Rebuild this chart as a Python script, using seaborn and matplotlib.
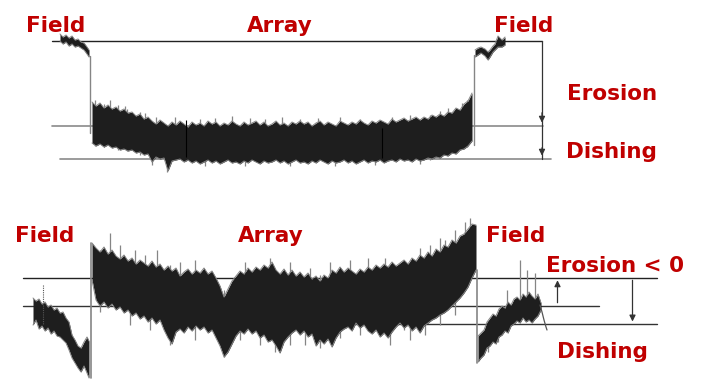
import matplotlib
matplotlib.use("Agg")
import matplotlib.pyplot as plt
import seaborn as sns
import pandas as pd

# ---------------- data (profile heights, screen units, y down) -------------
# Top profile: field (left), array, field (right)
t_fl_x = [60, 63, 66, 69, 72, 75, 78, 81, 84, 87, 89]
t_fl_hi = [34, 37, 35, 38, 36, 40, 39, 42, 43, 47, 50]
t_fl_lo = [41, 44, 42, 46, 44, 47, 46, 48, 50, 54, 57]

t_ar_x = list(range(92, 473, 4))
t_ar_hi = [102, 106, 103, 108, 105, 109, 107, 111, 109, 113, 112, 116, 114, 119, 117,
           121, 124, 120, 123, 126, 122, 125, 121, 124, 127, 122, 125, 123, 126, 121, 124, 122, 126, 123,
           125, 121, 124, 126, 122, 125, 123, 121, 125, 122, 126, 124, 121, 125, 123, 126, 122, 124, 121,
           124, 122, 126, 123, 121, 125, 122, 124, 126, 121, 123, 125, 122, 124, 120, 123, 125, 121, 123,
           120, 122, 124, 119, 122, 120, 118, 121, 119, 117, 120,
           117, 119, 115, 117, 114, 116, 112, 113, 108, 110, 104, 101, 93]
t_ar_lo = [143, 146, 144, 147, 145, 148, 147, 150, 149, 151, 150, 153, 152, 155, 154,
           162, 157, 159, 158, 171, 161, 160, 159, 162, 160, 163, 161, 164, 162, 160, 163, 161, 164, 162,
           160, 163, 162, 164, 161, 163, 160, 162, 164, 161, 163, 162, 160, 163, 161, 164, 162, 160, 163,
           162, 164, 161, 163, 160, 162, 164, 161, 163, 162, 160, 163, 161, 164, 162, 160, 163, 161, 162,
           160, 163, 161, 160, 162, 159, 161, 160, 162, 159, 161,
           160, 158, 159, 157, 158, 155, 156, 153, 154, 150, 149, 146, 141]

t_fr_x = [475, 478, 481, 485, 488, 490, 493, 495, 498, 502, 505]
t_fr_hi = [50, 48, 47, 49, 52, 50, 46, 44, 36, 40, 37]
t_fr_lo = [57, 55, 53, 56, 60, 57, 52, 50, 47, 47, 45]

t_spike_x = [95, 104, 110, 118, 125, 127, 140, 145, 156, 167, 175, 200, 215, 232, 250, 265, 282,
             300, 318, 340, 360, 392, 410, 430, 440, 448, 455, 462, 467,
             152, 205, 245, 290, 335, 375, 420]
t_spike_a = [100, 104, 100, 105, 106, 109, 112, 113, 117, 150, 117, 119, 118, 116, 118, 119, 117,
             119, 118, 117, 119, 117, 115, 115, 111, 108, 109, 103, 100,
             150, 150, 150, 150, 150, 150, 150]
t_spike_b = [146, 147, 120, 150, 120, 151, 155, 130, 158, 172, 135, 135, 135, 162, 135, 135, 135,
             135, 135, 135, 135, 135, 135, 160, 130, 130, 153, 130, 147,
             165, 166, 166, 166, 166, 165, 164]
t_mark_x = [186, 382]
t_mark_a = [120, 128]
t_mark_b = [157, 158]

# Bottom profile
b_fl_x = [33, 36, 39, 42, 45, 48, 51, 54, 57, 60, 63, 66, 69, 72, 75, 78, 81, 84, 87, 89]
b_fl_hi = [298, 301, 299, 304, 302, 307, 305, 310, 308, 313, 312, 318, 322, 335, 340, 346, 348, 342, 337, 341]
b_fl_lo = [325, 320, 329, 326, 331, 328, 334, 331, 336, 337, 340, 343, 350, 358, 363, 368, 372, 366, 373, 378]

b_ar_x = list(range(92, 477, 4))
b_ar_hi = [243, 248, 252, 247, 254, 250, 256, 259, 255, 261,
           258, 264, 260, 263, 266, 261, 267, 264, 270, 266,
           271, 268, 276, 272, 269, 274, 270, 273, 268, 274,
           271, 278, 286, 297, 289, 281, 276, 271, 274, 268,
           272, 267, 270, 265, 268, 262, 270, 274, 269, 275,
           270, 276, 272, 277, 273, 279, 276, 281, 275, 278,
           270, 273, 267, 272, 268, 271, 274, 269, 272, 267,
           270, 265, 268, 264, 267, 262, 266, 263, 260, 264,
           258, 261, 255, 258, 252, 256, 249, 252, 245, 247,
           240, 243, 236, 234, 229, 224, 225]
b_ar_lo = [280, 300, 306, 302, 308, 304, 310, 307, 313, 310,
           316, 313, 319, 316, 322, 318, 324, 320, 330, 338,
           344, 332, 329, 333, 327, 331, 326, 330, 327, 333,
           330, 338, 346, 357, 352, 344, 336, 331, 334, 329,
           334, 331, 338, 335, 342, 340, 346, 353, 342, 337,
           333, 330, 335, 331, 337, 334, 346, 340, 344, 339,
           347, 338, 332, 329, 327, 331, 323, 328, 325, 331,
           334, 330, 337, 333, 338, 332, 327, 323, 328, 325,
           331, 327, 333, 326, 323, 320, 318, 315, 313, 310,
           306, 302, 298, 293, 287, 278, 270]

b_fr_x = list(range(478, 542, 3))
b_fr_hi = [336, 333, 330, 322, 318, 314, 316, 309, 306, 308, 302, 305, 299, 297, 300, 294, 297, 292, 296, 299, 294, 303]
b_fr_lo = [362, 358, 355, 348, 346, 342, 344, 337, 335, 331, 333, 326, 324, 321, 323, 318, 322, 320, 323, 319, 316, 310]
b_tail_x = [540, 542, 544, 546, 547]
b_tail_y = [305, 312, 320, 327, 330]

b_spike_x = [100, 110, 157, 170, 224, 270, 275, 320, 404, 445, 507, 520, 527, 535,
             120, 135, 145, 180, 195, 245, 290, 310, 330, 350, 368, 385, 420, 430, 440, 455, 465, 470,
             130, 150, 195, 240, 260, 290, 305, 340, 360, 390, 410, 425, 440, 455, 488, 498]
b_spike_a = [250, 233, 250, 265, 290, 258, 280, 275, 262, 240, 290, 260, 270, 273,
             245, 250, 255, 262, 260, 262, 262, 268, 262, 260, 258, 258, 248, 245, 238, 230, 222, 218,
             300, 305, 315, 320, 325, 320, 320, 315, 315, 320, 320, 315, 305, 295, 330, 320]
b_spike_b = [312, 290, 300, 345, 357, 300, 352, 348, 330, 305, 320, 305, 310, 305,
             275, 280, 285, 290, 290, 290, 290, 295, 290, 290, 285, 285, 280, 275, 270, 262, 255, 250,
             325, 330, 340, 340, 345, 345, 345, 338, 335, 345, 340, 335, 325, 315, 352, 342]

labels_top = ["Field", "Array", "Field", "Erosion", "Dishing"]
labels_bot = ["Field", "Array", "Field", "Erosion < 0", "Dishing"]

# ---------------- drawing ----------------
sns.set_style("white")
plt.rcParams['font.family'] = ['DejaVu Sans']
fig = plt.figure(figsize=(7.02, 3.79), dpi=100)
ax = fig.add_axes([0, 0, 1, 1])
ax.set_xlim(0, 702)
ax.set_ylim(379, 0)
ax.axis("off")

DARK = "#1e1e1e"
EDGE = "#858585"
RED = "#c00000"


def trace(xs, hi, lo):
    ax.fill_between(xs, hi, lo, color=DARK, lw=0, zorder=3)
    df = pd.DataFrame({"x": list(xs) + list(xs), "y": list(hi) + list(lo),
                       "side": ["hi"] * len(xs) + ["lo"] * len(xs)})
    sns.lineplot(data=df, x="x", y="y", units="side", estimator=None,
                 color=EDGE, lw=0.7, ax=ax, zorder=4, sort=False)


# reference lines (top panel)
ax.plot([52, 542], [41, 41], color="#222222", lw=1.0, zorder=2)
ax.plot([52, 543], [125.5, 125.5], color="#8a8a8a", lw=1.2, zorder=2)
ax.plot([60, 551], [158.5, 158.5], color="#8a8a8a", lw=1.2, zorder=2)
ax.plot([542, 542], [41, 158.5], color="#333333", lw=0.9, zorder=2)
for y0, y1 in [(110, 125.5), (145, 158.5)]:
    ax.annotate("", xy=(542, y1), xytext=(542, y0),
                arrowprops=dict(arrowstyle="-|>", color="#333333", lw=0.9, mutation_scale=9))

# traces top
trace(t_fl_x, t_fl_hi, t_fl_lo)
ax.plot([90, 90], [56, 133], color=EDGE, lw=1.0, zorder=4)
ax.vlines(t_spike_x, t_spike_a, t_spike_b, color=EDGE, lw=0.9, zorder=2.9)
trace(t_ar_x, t_ar_hi, t_ar_lo)
ax.plot([473.5, 473.5], [145, 55], color=EDGE, lw=1.0, zorder=4)
trace(t_fr_x, t_fr_hi, t_fr_lo)
ax.vlines(t_mark_x, t_mark_a, t_mark_b, color="black", lw=0.8, zorder=5)

# reference lines (bottom panel)
ax.plot([23, 657], [277.5, 277.5], color="#222222", lw=1.0, zorder=2)
ax.plot([23, 599], [305.5, 305.5], color="#333333", lw=1.0, zorder=2)
ax.plot([205, 657], [324.3, 324.3], color="#333333", lw=1.0, zorder=2)
ax.annotate("", xy=(557.5, 277.5), xytext=(557.5, 305.5),
            arrowprops=dict(arrowstyle="-|>", color="#333333", lw=0.9, mutation_scale=9))
ax.annotate("", xy=(632.5, 324.3), xytext=(632.5, 277.5),
            arrowprops=dict(arrowstyle="-|>", color="#333333", lw=0.9, mutation_scale=9))

# traces bottom
trace(b_fl_x, b_fl_hi, b_fl_lo)
ax.plot([42.5, 42.5], [285, 325], color="#555555", lw=0.8, ls=(0, (1, 1)), zorder=4)
ax.plot([90.5, 90.5], [378, 243], color=EDGE, lw=1.2, zorder=4)
ax.vlines(b_spike_x, b_spike_a, b_spike_b, color=EDGE, lw=0.9, zorder=2.9)
trace(b_ar_x, b_ar_hi, b_ar_lo)
ax.plot([477, 477], [270, 363], color=EDGE, lw=1.2, zorder=4)
trace(b_fr_x, b_fr_hi, b_fr_lo)
sns.lineplot(x=b_tail_x, y=b_tail_y, color="#555555", lw=0.9, ax=ax, zorder=4, sort=False)

# labels
fs = 15.5
top_pos = [(55.5, 32.5), (280, 32.5), (523.5, 32.3), (612, 100), (611.5, 158.5)]
bot_pos = [(44.5, 242.3), (270.5, 242.3), (515.5, 241.7), (615.5, 272.3), (602.5, 357.7)]
for txt, (x, y) in zip(labels_top + labels_bot, top_pos + bot_pos):
    ax.text(x, y, txt, color=RED, fontsize=fs, fontweight="bold",
            ha="center", va="baseline", zorder=6)

fig.savefig("out.png", dpi=100)
